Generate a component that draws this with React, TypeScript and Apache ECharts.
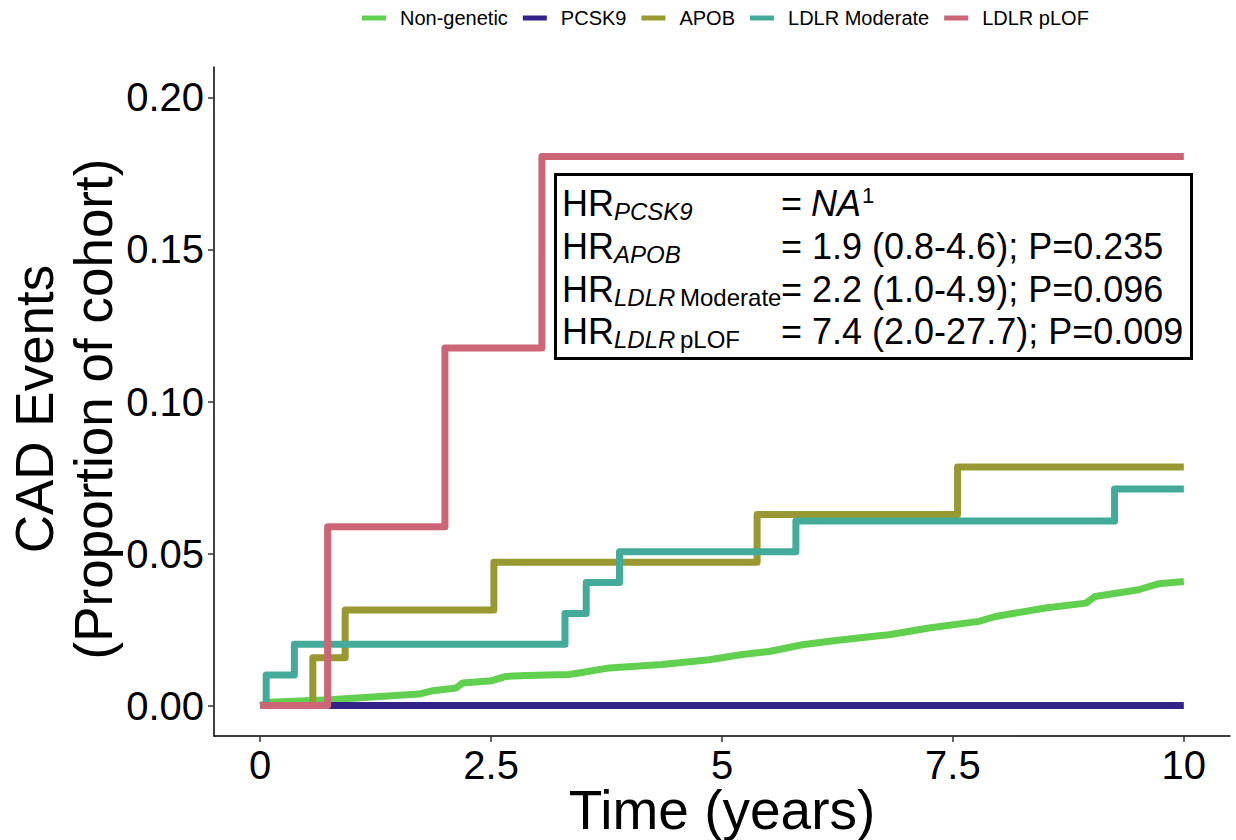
import React, { useEffect, useRef } from "react";
import * as echarts from "echarts";

const seriesNames = ["Non-genetic", "PCSK9", "APOB", "LDLR Moderate", "LDLR pLOF"];
const seriesColors = ["#61D04F", "#332288", "#999933", "#44AA99", "#CC6677"];

const nonGenetic: [number, number][] = [
  [0, 0], [0.1, 0.0011], [0.75, 0.0019], [1.72, 0.0038], [1.87, 0.0049], [2.12, 0.0058],
  [2.19, 0.0074], [2.51, 0.0082], [2.66, 0.0096], [2.88, 0.0099], [3.34, 0.0102],
  [3.45, 0.0107], [3.78, 0.0124], [4.35, 0.0135], [4.86, 0.0151], [5.22, 0.0168],
  [5.51, 0.0178], [5.87, 0.02], [6.23, 0.0214], [6.7, 0.023], [6.81, 0.0233],
  [7.24, 0.0255], [7.78, 0.0277], [7.96, 0.0293], [8.5, 0.0321], [8.94, 0.0337],
  [9.04, 0.0359], [9.51, 0.0381], [9.73, 0.0401], [10, 0.0408],
];
const pcsk9: [number, number][] = [[0, 0], [10, 0]];
const apob: [number, number][] = [
  [0, 0], [0.57, 0.0157], [0.92, 0.0314], [2.53, 0.0471], [5.38, 0.0628], [7.55, 0.0785], [10, 0.0785],
];
const ldlrModerate: [number, number][] = [
  [0, 0], [0.065, 0.0101], [0.37, 0.0202], [3.3, 0.0303], [3.53, 0.0405], [3.89, 0.0506],
  [5.8, 0.0607], [9.25, 0.0712], [10, 0.0712],
];
const ldlrPlof: [number, number][] = [
  [0, 0], [0.73, 0.0588], [2.0, 0.1176], [3.05, 0.1806], [10, 0.1806],
];
const stepped = [false, true, true, true, true];
const allData = [nonGenetic, pcsk9, apob, ldlrModerate, ldlrPlof];

const xTicks = [0, 2.5, 5, 7.5, 10];
const yTicks = [0, 0.05, 0.1, 0.15, 0.2];

const FONT = "'Liberation Sans', Arial, sans-serif";

export default function App() {
  const ref = useRef<HTMLDivElement>(null);
  useEffect(() => {
    document.body.style.margin = "0";
    const chart = echarts.init(ref.current!, null, { renderer: "svg" });
    const boxTexts: any[] = [];
    const lineY = [203, 246, 289, 331];
    const addText = (x: number, y: number, text: string, size: number, italic = false) => {
      boxTexts.push({
        type: "text",
        x,
        y,
        z: 101,
        style: {
          text,
          fontFamily: FONT,
          fontSize: size,
          fontStyle: italic ? "italic" : "normal",
          fill: "#000",
          align: "left",
          verticalAlign: "middle",
        },
      });
    };
    const subDy = 8;
    const subSize = 24;
    // line 1
    addText(562, lineY[0], "HR", 36);
    addText(614, lineY[0] + subDy, "PCSK9", subSize, true);
    addText(781, lineY[0], "=", 36);
    addText(811, lineY[0], "NA", 36, true);
    addText(862, lineY[0] - 8, "1", 22);
    // line 2
    addText(562, lineY[1], "HR", 36);
    addText(614, lineY[1] + subDy, "APOB", subSize, true);
    addText(781, lineY[1], "= 1.9 (0.8-4.6); P=0.235", 36);
    // line 3
    addText(562, lineY[2], "HR", 36);
    addText(614, lineY[2] + subDy, "LDLR", subSize, true);
    addText(680, lineY[2] + subDy, "Moderate", subSize);
    addText(781, lineY[2], "= 2.2 (1.0-4.9); P=0.096", 36);
    // line 4
    addText(562, lineY[3], "HR", 36);
    addText(614, lineY[3] + subDy, "LDLR", subSize, true);
    addText(680, lineY[3] + subDy, "pLOF", subSize);
    addText(781, lineY[3], "= 7.4 (2.0-27.7); P=0.009", 36);

    const option: any = {
      animation: false,
      backgroundColor: "#fff",
      textStyle: { fontFamily: FONT },
      legend: {
        left: 362,
        top: 8,
        padding: 0,
        icon: "rect",
        itemWidth: 24,
        itemHeight: 5,
        itemGap: 15,
        textStyle: { fontSize: 20, color: "#000", fontFamily: FONT, padding: [0, 0, 0, 9] },
        data: seriesNames,
      },
      grid: {
        left: 214,
        right: 6,
        top: 67,
        bottom: 104,
        containLabel: false,
        outerBoundsMode: "none",
      },
      xAxis: {
        type: "value",
        min: -0.5,
        max: 10.5,
        splitLine: { show: false },
        axisLine: { onZero: false, lineStyle: { color: "#000", width: 1.5 } },
        axisTick: { customValues: xTicks, length: 6, lineStyle: { color: "#333", width: 1.5 } },
        axisLabel: {
          customValues: xTicks,
          fontSize: 40,
          color: "#000",
          margin: 9,
          fontFamily: FONT,
          formatter: (v: number) => String(v),
        },
      },
      yAxis: {
        type: "value",
        min: -0.01,
        max: 0.21,
        splitLine: { show: false },
        axisLine: { onZero: false, lineStyle: { color: "#000", width: 1.5 } },
        axisTick: { customValues: yTicks, length: 6, lineStyle: { color: "#333", width: 1.5 } },
        axisLabel: {
          customValues: yTicks,
          fontSize: 40,
          color: "#000",
          margin: 10,
          fontFamily: FONT,
          formatter: (v: number) => v.toFixed(2),
        },
      },
      graphic: [
        {
          type: "text",
          x: 64,
          y: 409,
          rotation: Math.PI / 2,
          z: 100,
          style: {
            text: "CAD Events\n(Proportion of cohort)",
            fontFamily: FONT,
            fontSize: 53,
            lineHeight: 59,
            fill: "#000",
            align: "center",
            verticalAlign: "middle",
          },
        },
        {
          type: "text",
          x: 722,
          y: 810,
          z: 100,
          style: {
            text: "Time (years)",
            fontFamily: FONT,
            fontSize: 55,
            lineHeight: 46,
            fill: "#000",
            align: "center",
            verticalAlign: "middle",
          },
        },
        {
          type: "rect",
          z: 100,
          shape: { x: 555.5, y: 174.5, width: 636, height: 184 },
          style: { fill: "#fff", stroke: "#000", lineWidth: 3 },
        },
        ...boxTexts,
      ],
      series: seriesNames.map((name, i) => ({
        name,
        type: "line",
        step: stepped[i] ? "end" : false,
        data: allData[i],
        showSymbol: false,
        symbol: "none",
        color: seriesColors[i],
        itemStyle: { color: seriesColors[i] },
        lineStyle: { color: seriesColors[i], width: 7, cap: "butt", join: "round" },
        z: 2 + i,
      })),
    };
    chart.setOption(option);
    return () => chart.dispose();
  }, []);
  return (
    <div
      ref={ref}
      style={{ position: "absolute", left: 0, top: 0, width: 1236, height: 840 }}
    />
  );
}
